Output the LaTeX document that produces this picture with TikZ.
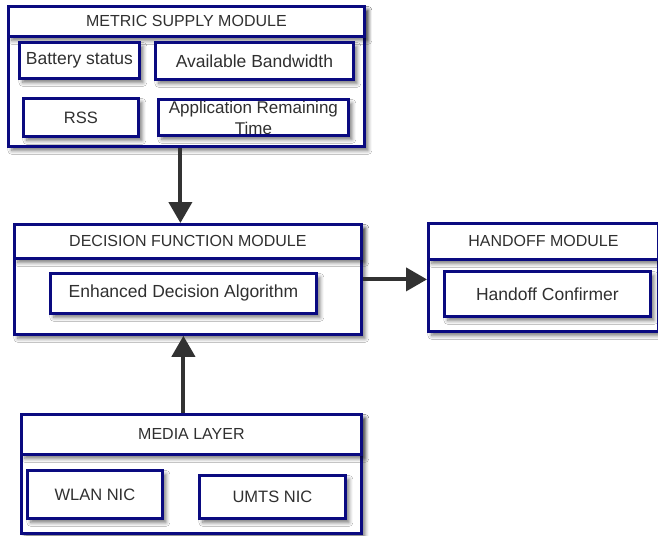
\documentclass[tikz,border=0pt]{standalone}
\usepackage{fontspec}
\setmainfont{Liberation Sans}
\usetikzlibrary{shadows.blur,arrows.meta}
\definecolor{navy}{RGB}{10,10,128}
\definecolor{txt}{RGB}{48,48,48}
\definecolor{arrowgray}{RGB}{50,50,50}
\tikzset{
  boxbase/.style={draw=navy, line width=2.8pt, fill=white, rectangle, inner sep=0pt,
    anchor=north west, text=txt,
    blur shadow={shadow xshift=3.5pt, shadow yshift=-4pt, shadow blur steps=6, shadow blur radius=4pt, shadow opacity=55}},
  frame/.style={boxbase},
  titlebox/.style={boxbase, font=\fontsize{16}{19}\selectfont},
  innerbox/.style={boxbase, font=\fontsize{17.5}{21}\selectfont},
  capsbox/.style={boxbase, font=\fontsize{16.5}{20}\selectfont},
  bodytext/.style={text=txt, font=\fontsize{17}{21}\selectfont, inner sep=0pt},
  arr/.style={draw=arrowgray, line width=4pt, -{Triangle[width=23pt,length=21pt]}}
}
\begin{document}
\begin{tikzpicture}[x=1pt,y=-1pt]
\useasboundingbox[fill=white] (0,0) rectangle (658,535);
% Metric supply module
\node[frame, minimum width=356, minimum height=140] (msm) at (7,5) {};
\node[titlebox, minimum width=356, minimum height=30] (msmt) at (7,5) {METRIC SUPPLY MODULE};
\node[innerbox, minimum width=120, minimum height=36] (bat) at (18,41) {Battery status};
\node[innerbox, minimum width=198, minimum height=37] (bw) at (154,41) {Available Bandwidth};
\node[capsbox, minimum width=115, minimum height=38] (rss) at (22,97) {RSS};
\node[innerbox, minimum width=190, minimum height=36] (art) at (157,98) {};
\node[bodytext, align=center] (artt) at ([yshift=-1]art.center) {Application Remaining\\Time};
% Decision function module
\node[frame, minimum width=347, minimum height=110] (dfm) at (13,223) {};
\node[titlebox, minimum width=347, minimum height=34] (dfmt) at (13,223) {DECISION FUNCTION MODULE};
\node[innerbox, minimum width=266, minimum height=40] (eda) at (49,272) {Enhanced Decision Algorithm};
% Handoff module
\node[frame, minimum width=230, minimum height=108] (hm) at (427,222) {};
\node[titlebox, minimum width=230, minimum height=36] (hmt) at (427,222) {HANDOFF MODULE};
\node[innerbox, minimum width=206, minimum height=45] (hc) at (443,270) {Handoff Confirmer};
% Media layer
\node[frame, minimum width=340, minimum height=119] (ml) at (20,413) {};
\node[titlebox, minimum width=340, minimum height=40] (mlt) at (20,413) {MEDIA LAYER};
\node[capsbox, minimum width=135, minimum height=48] (wlan) at (26,469) {WLAN NIC};
\node[capsbox, minimum width=146, minimum height=43] (umts) at (198,474) {UMTS NIC};
% Arrows
\draw[arr] ([xshift=-6]msm.south) -- ([xshift=-6]msm.south |- dfm.north);
\draw[arr] (dfm.east) -- (dfm.east -| hm.west);
\draw[arr] ([xshift=-8]ml.north) -- ([xshift=-8]ml.north |- dfm.south);
\end{tikzpicture}
\end{document}
